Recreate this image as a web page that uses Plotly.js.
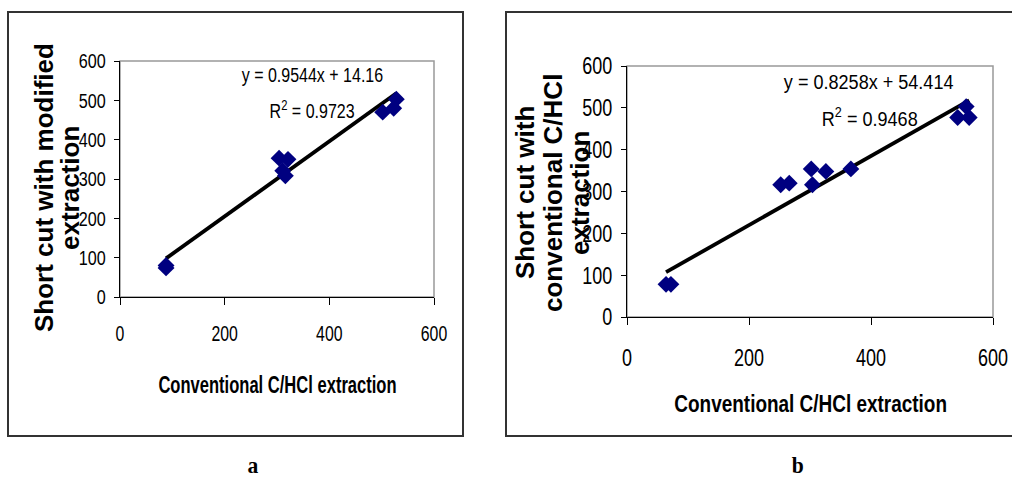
<!DOCTYPE html>
<html>
<head>
<meta charset="utf-8">
<script src="https://cdn.plot.ly/plotly-3.0.1.min.js"></script>
<style>
  html, body { margin: 0; padding: 0; background: #fff; }
  #chart { width: 1012px; height: 479px; }
</style>
</head>
<body>
<div id="chart"></div>
<script>
// ---- Data ----
const xA = [88, 88, 304, 321, 311, 316, 502, 523, 528];
const yA = [80, 74, 353, 350, 321, 308, 470, 480, 503];
const slopeA = 0.9544, interceptA = 14.16;
const eqA = "y = 0.9544x + 14.16";
const r2A = "R<sup>2</sup> = 0.9723";

const xB = [64, 72, 252, 266, 302, 304, 326, 367, 542, 561, 556];
const yB = [78, 78, 316, 320, 354, 316, 348, 354, 477, 477, 503];
const slopeB = 0.8258, interceptB = 54.414;
const eqB = "y = 0.8258x + 54.414";
const r2B = "R<sup>2</sup> = 0.9468";

const xTitle = "Conventional C/HCl extraction";
const yTitleA = ["Short cut with modified", "extraction"];
const yTitleB = ["Short cut with", "conventional C/HCl", "extraction"];
const panelLabels = ["a", "b"];

// ---- Helpers ----
const W = 1012, H = 479;
const px = v => v / W;
const py = v => 1 - v / H;

function trend(xs, m, b) {
  const x0 = Math.min(...xs), x1 = Math.max(...xs);
  return { x: [x0, x1], y: [m * x0 + b, m * x1 + b] };
}
const tA = trend(xA, slopeA, interceptA);
const tB = trend(xB, slopeB, interceptB);

const SANS = "'Liberation Sans', Arial, sans-serif";
const SERIF = "'Liberation Serif', 'Times New Roman', serif";

const marker = { symbol: "diamond", size: 13, color: "#000080" };

const traces = [
  { x: tA.x, y: tA.y, xaxis: "x", yaxis: "y", mode: "lines", line: { color: "#000", width: 3.8 }, hoverinfo: "skip" },
  { x: xA, y: yA, xaxis: "x", yaxis: "y", mode: "markers", marker: marker },
  { x: tB.x, y: tB.y, xaxis: "x2", yaxis: "y2", mode: "lines", line: { color: "#000", width: 3.8 }, hoverinfo: "skip" },
  { x: xB, y: yB, xaxis: "x2", yaxis: "y2", mode: "markers", marker: marker }
];

function xaxisDef(domain, anchor, size, standoff) {
  return {
    domain: domain, anchor: anchor, range: [0, 600], dtick: 200, tick0: 0,
    showgrid: false, zeroline: false, showline: true, linecolor: "#000", linewidth: 1,
    ticks: "outside", ticklen: 7, tickcolor: "#000", tickwidth: 1,
    tickfont: { family: SANS, size: size, color: "#000" },
    ticklabelstandoff: standoff, ticklabeloverflow: "allow", fixedrange: true
  };
}
function yaxisDef(domain, anchor, size, standoff) {
  return {
    domain: domain, anchor: anchor, range: [0, 600], dtick: 100, tick0: 0,
    showgrid: false, zeroline: false, showline: true, linecolor: "#000", linewidth: 1,
    ticks: "outside", ticklen: 5, tickcolor: "#000", tickwidth: 1,
    tickfont: { family: SANS, size: size, color: "#000" },
    ticklabelstandoff: standoff, ticklabeloverflow: "allow", fixedrange: true
  };
}

function ann(text, x, y, size, extra) {
  return Object.assign({
    text: text, x: px(x), y: py(y), xref: "paper", yref: "paper", showarrow: false,
    xanchor: "center", yanchor: "middle", borderpad: 0,
    font: { family: SANS, size: size, color: "#000" }
  }, extra || {});
}

const annotations = [
  ann(eqA, 312, 75, 20),
  ann(r2A, 312, 110, 20),
  ann(eqB, 869, 82, 21),
  ann(r2B, 870, 117, 21),
  ann("<b>" + xTitle + "</b>", 277, 385, 23),
  ann("<b>" + xTitle + "</b>", 810, 403, 24),
  ann("<b>" + panelLabels[0] + "</b>", 253, 465, 24, { font: { family: SERIF, size: 24, color: "#000" } }),
  ann("<b>" + panelLabels[1] + "</b>", 797, 465, 24, { font: { family: SERIF, size: 24, color: "#000" } })
];
// horizontal compression for the condensed look of the reference
const annScale = { 0: 0.8, 1: 0.8, 2: 0.86, 3: 0.86, 4: 0.72, 5: 0.79, 6: 0.9, 7: 0.9 };

const yPosA = [44, 70];
yTitleA.forEach((t, i) => annotations.push(
  ann("<b>" + t + "</b>", yPosA[i], 188, 26, { textangle: -90 })
));
const yPosB = [525, 553, 580];
yTitleB.forEach((t, i) => annotations.push(
  ann("<b>" + t + "</b>", yPosB[i], 193, 26, { textangle: -90 })
));

const shapes = [
  { type: "rect", xref: "paper", yref: "paper", x0: px(8), x1: px(463), y0: py(436), y1: py(12), line: { color: "#333", width: 2 } },
  { type: "rect", xref: "paper", yref: "paper", x0: px(506), x1: px(1020), y0: py(436), y1: py(12), line: { color: "#333", width: 2 } },
  { type: "rect", xref: "x domain", yref: "y domain", x0: 0, x1: 1, y0: 0, y1: 1, line: { color: "#999", width: 1.5 }, layer: "below" },
  { type: "rect", xref: "x2 domain", yref: "y2 domain", x0: 0, x1: 1, y0: 0, y1: 1, line: { color: "#999", width: 1.5 }, layer: "below" }
];

const layout = {
  width: W, height: H,
  margin: { l: 0, r: 0, t: 0, b: 0 },
  paper_bgcolor: "#fff", plot_bgcolor: "#fff",
  showlegend: false,
  xaxis: xaxisDef([px(120), px(434)], "y", 22, 10),
  yaxis: yaxisDef([py(297), py(61)], "x", 21, 4),
  xaxis2: xaxisDef([px(627), px(993)], "y2", 24, 12),
  yaxis2: yaxisDef([py(317), py(66)], "x2", 24, 4),
  annotations: annotations,
  shapes: shapes
};

function squeeze(el, sx, pivot) {
  const bb = el.getBBox();
  const cx = pivot === "end" ? bb.x + bb.width : bb.x + bb.width / 2;
  const t = el.getAttribute("transform") || "";
  el.setAttribute("transform", (t + " translate(" + cx + ",0) scale(" + sx + ",1) translate(" + (-cx) + ",0)").trim());
}

Plotly.newPlot("chart", traces, layout, { staticPlot: true, displayModeBar: false }).then(gd => {
  gd.querySelectorAll("g.xtick text").forEach(t => squeeze(t, 0.72, "middle"));
  gd.querySelectorAll("g.x2tick text").forEach(t => squeeze(t, 0.75, "middle"));
  gd.querySelectorAll("g.ytick text").forEach(t => squeeze(t, 0.77, "end"));
  gd.querySelectorAll("g.y2tick text").forEach(t => squeeze(t, 0.75, "end"));
  gd.querySelectorAll("g.annotation").forEach(g => {
    const idx = +g.getAttribute("data-index");
    if (annScale[idx]) {
      const t = g.querySelector("text.annotation-text");
      if (t) squeeze(t, annScale[idx], "middle");
    }
  });
});
</script>
</body>
</html>
